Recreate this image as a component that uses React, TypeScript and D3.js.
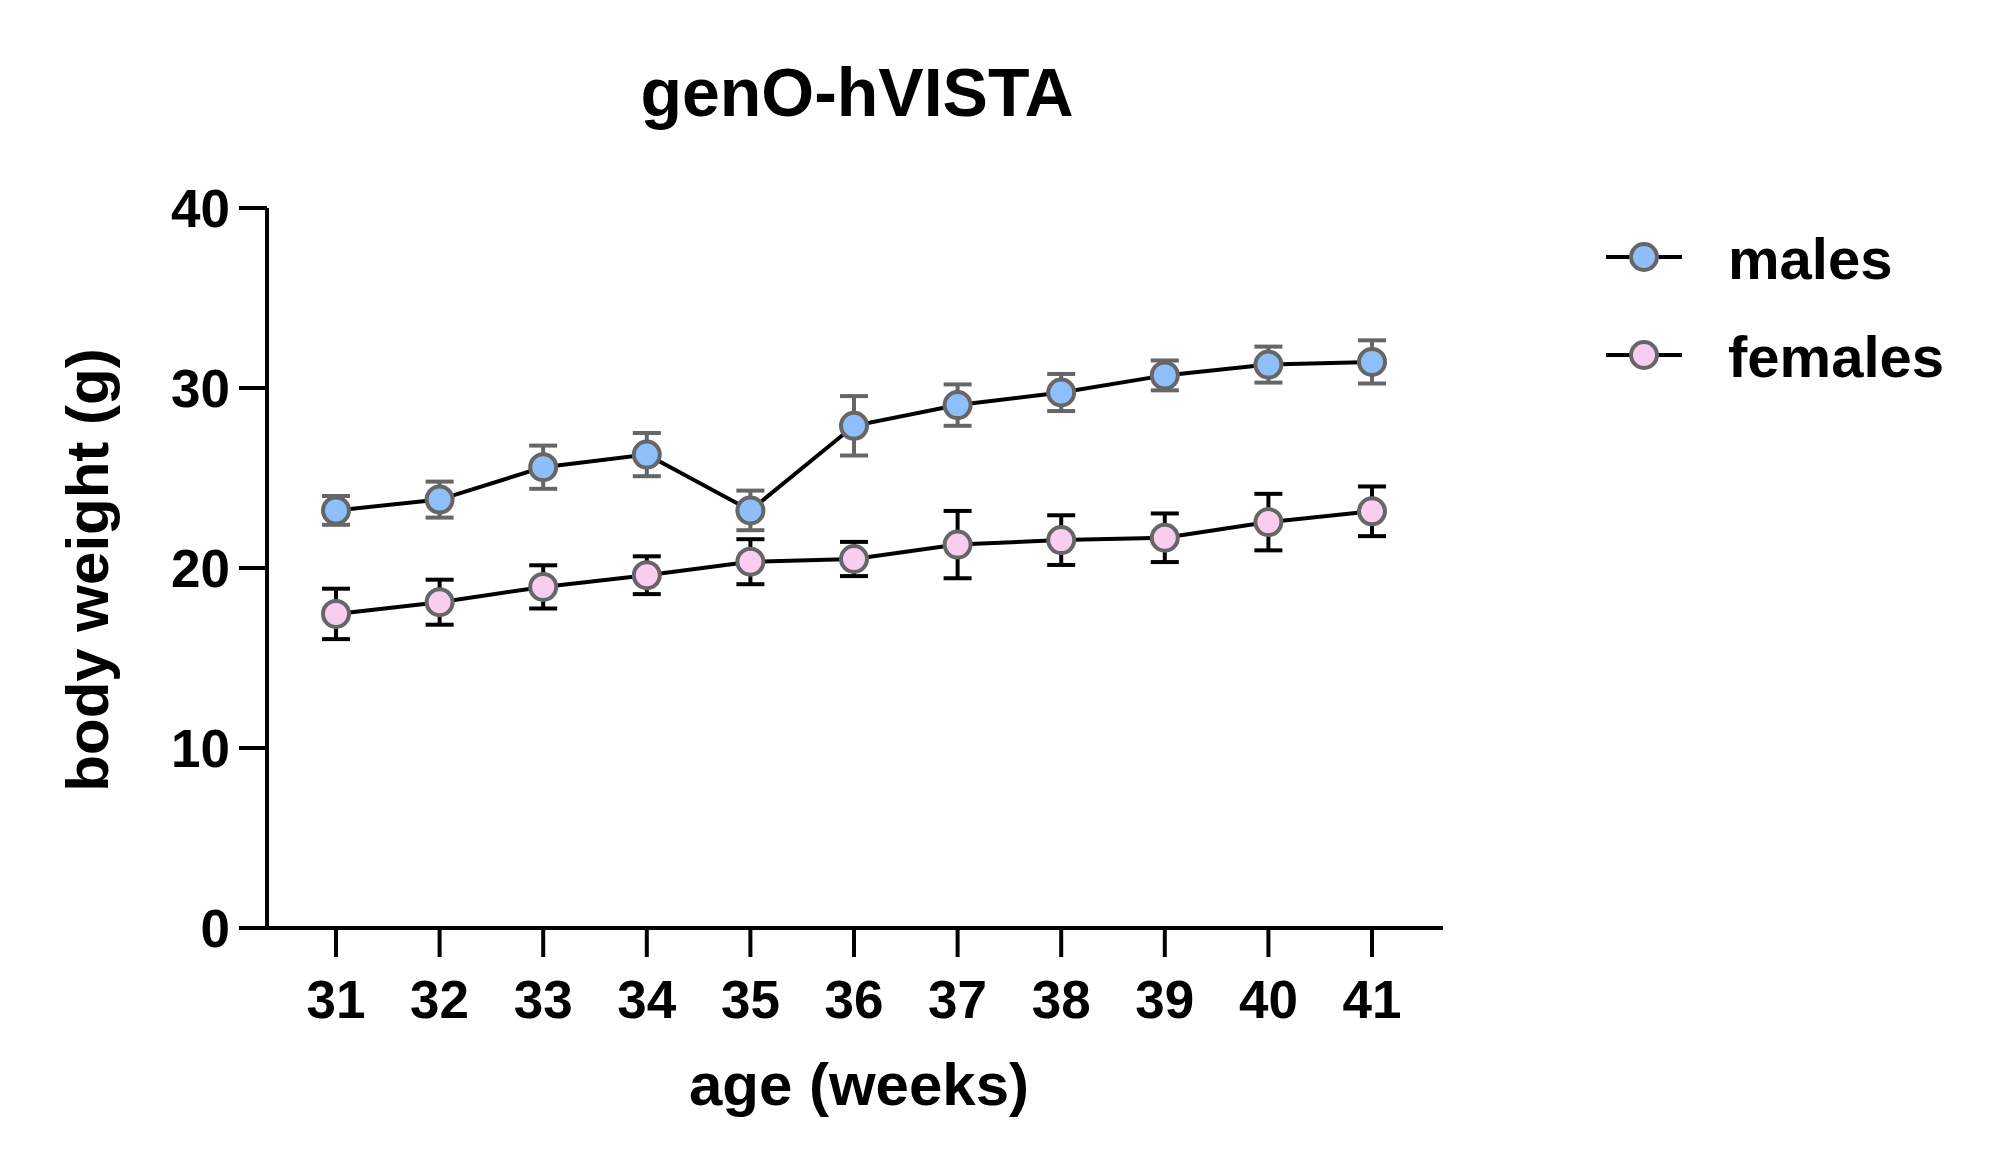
import React from "react";
import * as d3 from "d3";

// data
const weeks = [31, 32, 33, 34, 35, 36, 37, 38, 39, 40, 41];
const malesMean = [23.2, 23.8, 25.6, 26.3, 23.2, 27.9, 29.05, 29.75, 30.7, 31.3, 31.45];
const malesErr = [0.8, 1.0, 1.2, 1.2, 1.1, 1.65, 1.15, 1.03, 0.83, 1.0, 1.2];
const femalesMean = [17.45, 18.1, 18.95, 19.6, 20.35, 20.5, 21.3, 21.55, 21.68, 22.55, 23.15];
const femalesErr = [1.4, 1.25, 1.2, 1.05, 1.25, 0.95, 1.87, 1.38, 1.35, 1.57, 1.38];
const yTicks = [0, 10, 20, 30, 40];

const W = 2000;
const H = 1165;
const FONT = "'Liberation Sans', Arial, Helvetica, sans-serif";

const series = [
  { name: "males", mean: malesMean, err: malesErr, fill: "#8fbff8", bar: "#666666" },
  { name: "females", mean: femalesMean, err: femalesErr, fill: "#f9cdef", bar: "#000000" },
];

export default function App() {
  const x = d3.scaleLinear().domain([31, 41]).range([336, 1372]);
  const y = d3.scaleLinear().domain([0, 40]).range([928, 208]);
  const axisLeft = 267;
  const axisRight = 1443;
  const tickLen = 28;
  const r = 13;
  const cap = 14;

  const line = d3
    .line<number>()
    .x((_, i) => x(weeks[i]))
    .y((d) => y(d));

  return (
    <svg
      width={W}
      height={H}
      style={{ position: "absolute", left: 0, top: 0, background: "#fff" }}
      fontFamily={FONT}
      fontWeight="bold"
    >
      <text x={857} y={116} fontSize={68} textAnchor="middle">
        genO-hVISTA
      </text>

      {/* y axis */}
      <line x1={axisLeft} x2={axisLeft} y1={y(40)} y2={y(0)} stroke="#000" strokeWidth={4} />
      {yTicks.map((t) => (
        <g key={t}>
          <line x1={axisLeft - tickLen} x2={axisLeft} y1={y(t)} y2={y(t)} stroke="#000" strokeWidth={4} />
          <text x={230} y={y(t)} dy="0.36em" fontSize={53} textAnchor="end">
            {t}
          </text>
        </g>
      ))}

      {/* x axis */}
      <line x1={axisLeft - tickLen} x2={axisRight} y1={y(0)} y2={y(0)} stroke="#000" strokeWidth={4} />
      {weeks.map((w) => (
        <g key={w}>
          <line x1={x(w)} x2={x(w)} y1={y(0)} y2={y(0) + 29} stroke="#000" strokeWidth={4} />
          <text x={x(w)} y={1018} fontSize={53} textAnchor="middle">
            {w}
          </text>
        </g>
      ))}

      <text x={859} y={1105} fontSize={60} textAnchor="middle">
        age (weeks)
      </text>
      <text transform="translate(108,570) rotate(-90)" fontSize={60} textAnchor="middle">
        body weight (g)
      </text>

      {/* lines */}
      {series.map((s) => (
        <path key={s.name + "-line"} d={line(s.mean) || ""} fill="none" stroke="#000" strokeWidth={4} />
      ))}

      {/* error bars */}
      {series.map((s) =>
        s.mean.map((m, i) => {
          const cx = x(weeks[i]);
          const top = y(m + s.err[i]);
          const bot = y(m - s.err[i]);
          return (
            <g key={s.name + "-err-" + i} stroke={s.bar} strokeWidth={4}>
              <line x1={cx} x2={cx} y1={top} y2={bot} />
              <line x1={cx - cap} x2={cx + cap} y1={top} y2={top} />
              <line x1={cx - cap} x2={cx + cap} y1={bot} y2={bot} />
            </g>
          );
        })
      )}

      {/* markers */}
      {series.map((s) =>
        s.mean.map((m, i) => (
          <circle
            key={s.name + "-pt-" + i}
            cx={x(weeks[i])}
            cy={y(m)}
            r={r}
            fill={s.fill}
            stroke="#666666"
            strokeWidth={4}
          />
        ))
      )}

      {/* legend */}
      {series.map((s, i) => {
        const ly = 257 + i * 98;
        return (
          <g key={s.name + "-legend"}>
            <line x1={1606} x2={1682} y1={ly} y2={ly} stroke="#000" strokeWidth={4} />
            <circle cx={1644} cy={ly} r={r} fill={s.fill} stroke="#666666" strokeWidth={4} />
            <text x={1728} y={ly + 22} fontSize={58}>
              {s.name}
            </text>
          </g>
        );
      })}
    </svg>
  );
}
